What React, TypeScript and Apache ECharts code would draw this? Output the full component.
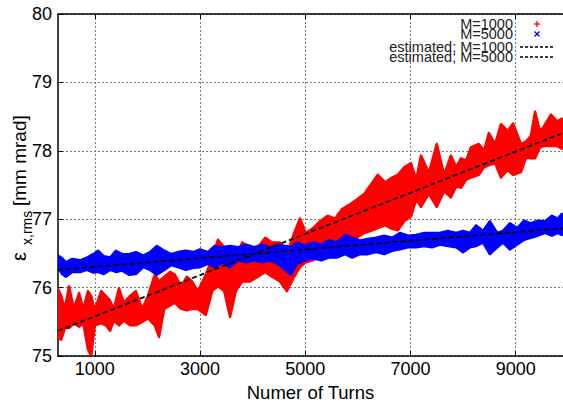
import React, { useEffect, useRef } from "react";
import * as echarts from "echarts";

const xTicks = [1000, 3000, 5000, 7000, 9000];
const xMin = 300;
const xMax = 9900;
const yMin = 75;
const yMax = 80;

const redTurns = [300,360,430,510,600,700,780,870,930,1000,1120,1210,1290,1360,1460,1550,1670,1780,1900,2010,2140,2220,2320,2430,2520,2640,2750,2850,2960,3110,3230,3340,3460,3570,3680,3800,3950,4100,4240,4370,4520,4650,4790,4900,5010,5150,5280,5430,5570,5700,5850,5980,6120,6250,6380,6520,6650,6760,6880,7010,7110,7200,7350,7500,7640,7770,7870,7960,8060,8150,8300,8400,8490,8610,8720,8850,8950,9100,9200,9290,9370,9460,9540,9670,9790,9880];
const redHigh = [75.98,75.88,75.69,76.02,75.69,75.92,75.69,75.95,75.88,75.67,75.95,75.88,75.81,75.69,75.99,75.78,75.88,75.95,75.69,75.88,76.19,76.09,76.16,76.23,76.19,76.02,76.16,76.09,75.95,76.19,76.44,76.70,76.59,76.37,76.44,76.66,76.59,76.59,76.73,76.66,76.66,76.49,76.80,77.01,76.80,76.87,76.97,77.05,77.01,77.15,77.22,77.29,77.37,77.51,77.65,77.54,77.61,77.65,77.76,77.82,77.58,77.93,77.68,78.10,77.65,77.93,77.76,77.89,77.86,78.05,78.10,78.00,78.26,78.10,78.39,78.29,78.40,78.10,78.14,78.22,78.57,78.29,78.36,78.53,78.43,78.47];
const redLow = [75.27,75.24,75.41,75.41,75.48,75.43,75.48,75.10,75.00,75.45,75.48,75.45,75.37,75.52,75.45,75.52,75.45,75.45,75.50,75.55,75.45,75.28,75.69,75.74,75.78,75.69,75.67,75.69,75.69,75.60,75.95,76.02,75.95,75.57,75.95,76.09,76.09,76.16,76.23,76.16,76.09,75.95,76.16,76.30,76.37,76.40,76.49,76.52,76.59,76.66,76.69,76.73,76.80,76.83,76.87,76.91,76.86,76.84,76.97,77.04,77.29,77.18,77.37,77.18,77.41,77.32,77.48,77.46,77.58,77.61,77.65,77.76,77.79,77.82,77.61,77.72,77.65,77.69,77.90,77.89,77.89,78.05,78.07,78.07,78.07,78.03];

const blueTurns = [300,380,450,570,720,850,970,1060,1170,1290,1400,1520,1650,1780,1920,2050,2180,2320,2450,2580,2730,2870,3000,3150,3280,3420,3570,3720,3870,4030,4180,4330,4480,4620,4730,4840,5000,5150,5300,5450,5600,5760,5890,6040,6190,6350,6500,6650,6800,6950,7110,7260,7410,7560,7710,7870,8000,8130,8250,8380,8510,8650,8760,8890,9030,9160,9290,9420,9560,9690,9800,9880];
const blueHigh = [76.47,76.43,76.37,76.42,76.40,76.44,76.49,76.54,76.46,76.44,76.54,76.49,76.49,76.52,76.47,76.52,76.61,76.54,76.49,76.52,76.54,76.52,76.56,76.52,76.61,76.59,76.61,76.59,76.63,76.59,76.63,76.59,76.63,76.61,76.59,76.66,76.61,76.66,76.63,76.69,76.66,76.77,76.73,76.69,76.71,76.73,76.76,76.73,76.80,76.76,76.77,76.80,76.80,76.80,76.83,76.80,76.83,76.80,76.91,76.83,76.97,76.80,76.83,76.94,76.87,76.98,76.94,76.98,76.97,77.05,77.01,77.08];
const blueLow = [76.30,76.20,76.16,76.23,76.23,76.26,76.22,76.23,76.20,76.26,76.23,76.25,76.19,76.20,76.30,76.26,76.19,76.26,76.33,76.30,76.26,76.29,76.30,76.35,76.30,76.37,76.30,76.40,76.37,76.40,76.37,76.40,76.35,76.26,76.19,76.35,76.40,76.43,76.40,76.44,76.44,76.49,76.44,76.49,76.49,76.52,76.49,76.54,76.56,76.59,76.59,76.61,76.59,76.63,76.61,76.59,76.52,76.59,76.61,76.66,76.49,76.59,76.66,76.56,76.63,76.70,76.73,76.76,76.80,76.76,76.80,76.77];

const fitTurns = [300, 9900];
const fitM1000 = [75.37, 78.26];
const fitM5000 = [76.26, 76.87];

const legendLabels = ["M=1000", "M=5000", "estimated; M=1000", "estimated; M=5000"];
const xTitle = "Numer of Turns";

const RED = "#ff0000";
const BLUE = "#0000ff";
const FONT = "Liberation Sans";

function bandSeries(name: string, turns: number[], low: number[], high: number[], color: string) {
  return {
    name,
    type: "custom",
    data: turns.map((t, i) => [t, low[i], high[i]]),
    encode: { x: 0, y: [1, 2] },
    silent: true,
    clip: true,
    renderItem: (params: any, api: any) => {
      if (params.dataIndex !== 0) return null;
      const upper = turns.map((t, i) => api.coord([t, high[i]]));
      const lower = turns.map((t, i) => api.coord([t, low[i]])).reverse();
      return {
        type: "polygon",
        shape: { points: upper.concat(lower) },
        style: { fill: color, stroke: color, lineWidth: 2.5, lineJoin: "round" },
      };
    },
  };
}

export default function App() {
  const ref = useRef<HTMLDivElement>(null);
  useEffect(() => {
    if (!ref.current) return;
    const chart = echarts.init(ref.current, null, { renderer: "svg" });
    const gridLine = { show: true, lineStyle: { color: "#7a7a7a", type: [2, 2], width: 1 } };
    const rowY = [24, 34, 47, 57];
    const graphic: any[] = [];
    legendLabels.forEach((txt, i) => {
      graphic.push({
        type: "text",
        x: 513,
        y: rowY[i],
        z: 100,
        style: { text: txt, align: "right", verticalAlign: "middle", fontSize: 14.5, lineHeight: 10, fontFamily: FONT, fill: "#222" },
      });
    });
    graphic.push(
      { type: "line", z: 100, shape: { x1: 534, y1: 24, x2: 540, y2: 24 }, style: { stroke: RED, lineWidth: 1.3 } },
      { type: "line", z: 100, shape: { x1: 537, y1: 21, x2: 537, y2: 27 }, style: { stroke: RED, lineWidth: 1.3 } },
      { type: "line", z: 100, shape: { x1: 534.5, y1: 31.5, x2: 539.5, y2: 36.5 }, style: { stroke: BLUE, lineWidth: 1.3 } },
      { type: "line", z: 100, shape: { x1: 534.5, y1: 36.5, x2: 539.5, y2: 31.5 }, style: { stroke: BLUE, lineWidth: 1.3 } },
      { type: "line", z: 100, shape: { x1: 520, y1: 47, x2: 553, y2: 47 }, style: { stroke: "#000", lineWidth: 1.3, lineDash: [3, 2] } },
      { type: "line", z: 100, shape: { x1: 520, y1: 57, x2: 553, y2: 57 }, style: { stroke: "#000", lineWidth: 1.3, lineDash: [3, 2] } },
      {
        type: "group",
        x: 19,
        y: 262,
        rotation: Math.PI / 2,
        children: [
          { type: "text", x: 1, y: 0, style: { text: "ε", align: "left", verticalAlign: "middle", fontSize: 20, fontFamily: FONT, fill: "#000" } },
          { type: "text", x: 17, y: 8, style: { text: "x,rms", align: "left", verticalAlign: "middle", fontSize: 14, fontFamily: FONT, fill: "#000" } },
          { type: "text", x: 56, y: 0, style: { text: "[mm mrad]", align: "left", verticalAlign: "middle", fontSize: 19, fontFamily: FONT, fill: "#000" } },
        ],
      }
    );

    chart.setOption({
      animation: false,
      backgroundColor: "#fff",
      grid: { left: 58, top: 14, width: 505, height: 353 },
      xAxis: [
        {
          type: "value",
          min: xMin,
          max: xMax,
          position: "bottom",
          axisLine: { show: true, lineStyle: { color: "#000", width: 1.5 } },
          axisTick: { show: true, inside: true, length: 5, customValues: xTicks, lineStyle: { color: "#000" } },
          axisLabel: { customValues: xTicks, formatter: (v: number) => String(v), fontSize: 18, fontFamily: FONT, color: "#000", margin: 4 },
          splitLine: gridLine,
          name: xTitle,
          nameLocation: "middle",
          nameGap: 18,
          nameTextStyle: { fontSize: 18.5, fontFamily: FONT, color: "#000" },
        },
        {
          type: "value",
          min: xMin,
          max: xMax,
          position: "top",
          axisLine: { show: true, lineStyle: { color: "#000", width: 1.5 } },
          axisTick: { show: true, inside: true, length: 5, customValues: xTicks, lineStyle: { color: "#000" } },
          axisLabel: { show: false },
          splitLine: { show: false },
        },
      ],
      yAxis: {
        type: "value",
        min: yMin,
        max: yMax,
        interval: 1,
        axisLine: { show: true, lineStyle: { color: "#000", width: 1.5 } },
        axisTick: { show: true, inside: true, length: 5, lineStyle: { color: "#000" } },
        axisLabel: { fontSize: 18, fontFamily: FONT, color: "#000", margin: 6 },
        splitLine: gridLine,
      },
      series: [
        bandSeries("M=1000", redTurns, redLow, redHigh, RED),
        bandSeries("M=5000", blueTurns, blueLow, blueHigh, BLUE),
        {
          name: "estimated; M=1000",
          type: "line",
          data: fitTurns.map((t, i) => [t, fitM1000[i]]),
          symbol: "none",
          z: 10,
          lineStyle: { color: "#000", width: 1.8, type: [5, 3] },
        },
        {
          name: "estimated; M=5000",
          type: "line",
          data: fitTurns.map((t, i) => [t, fitM5000[i]]),
          symbol: "none",
          z: 10,
          lineStyle: { color: "#000", width: 1.8, type: [5, 3] },
        },
      ],
      graphic,
    });
    return () => chart.dispose();
  }, []);
  return <div ref={ref} style={{ position: "absolute", left: 0, top: 0, width: 563, height: 407 }} />;
}
